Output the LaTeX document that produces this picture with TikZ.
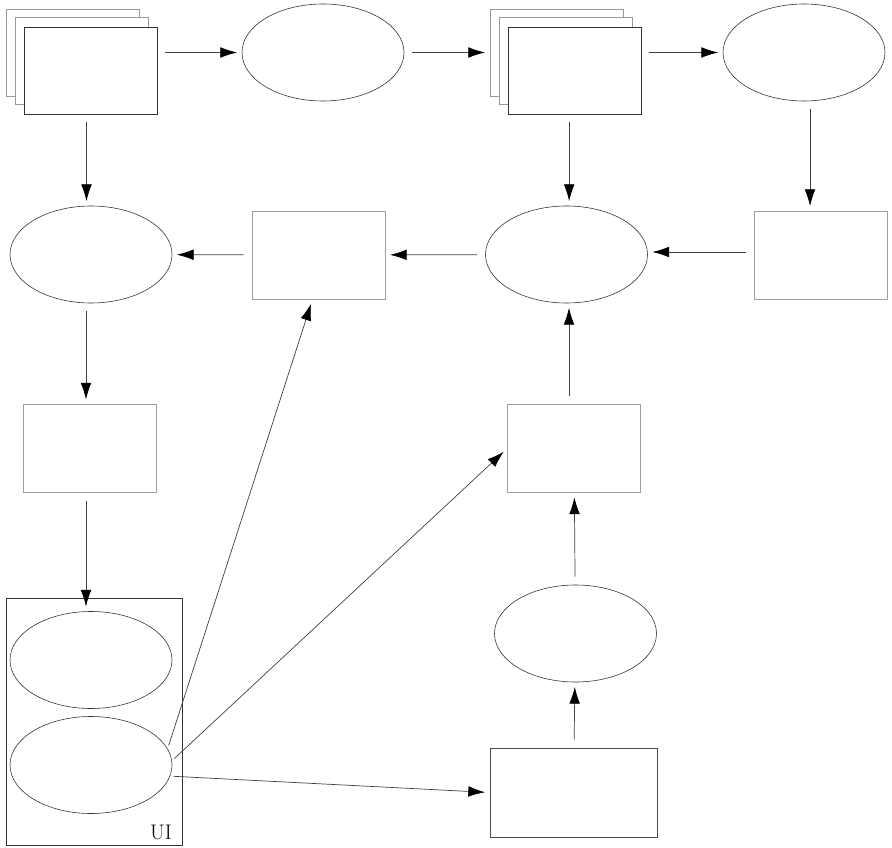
\documentclass[tikz,border=0pt]{standalone}
\usetikzlibrary{shapes.geometric,arrows.meta}

\tikzset{
  box/.style={draw=gray!75, line width=0.6pt, fill=white, minimum width=3.99cm, minimum height=2.64cm, inner sep=0pt},
  card/.style={box, minimum width=3.99cm, minimum height=2.61cm},
  oval/.style={ellipse, draw=black!80, line width=0.5pt, fill=white, minimum width=4.86cm, minimum height=2.91cm, inner sep=0pt},
  arr/.style={draw=black!75, line width=0.6pt, -{Latex[length=0.5cm, width=0.32cm, color=black]}, shorten <=0.24cm, shorten >=0.14cm}
}

\begin{document}
\begin{tikzpicture}[x=0.03cm, y=-0.03cm]
  \useasboundingbox (0,0) rectangle (892,848);
  %first row
  \node[card, draw=gray!80] (A3) at (72.5,52.5) {};
  \node[card, draw=gray!80] (A2) at (81.5,61) {};
  \node[card, draw=black!80] (A) at (90.5,70.5) {};
  \node[oval] (B) at (323,52.5) {};
  \node[card, draw=gray!80] (C3) at (556.5,52.5) {};
  \node[card, draw=gray!80] (C2) at (565.5,61) {};
  \node[card, draw=black!80] (C) at (574.5,70.5) {};
  \node[oval] (D) at (804,52.5) {};
  %second row
  \node[oval] (E) at (91,254.5) {};
  \node[box] (F) at (318.5,255) {};
  \node[oval] (G) at (566.5,254.5) {};
  \node[box] (H) at (820.5,255) {};
  %third row
  \node[box] (I) at (90,448.5) {};
  \node[box] (J) at (574,448.5) {};
  %UI
  \node[draw=black!80, line width=0.6pt, minimum width=5.28cm, minimum height=7.41cm, inner sep=0pt] (UI) at (94,721.5) {};
  \node[anchor=south east, inner sep=0pt, font=\fontsize{18}{20}\selectfont] (UIlabel) at (172,840) {UI};
  \node[oval] (K1) at (91,660) {};
  \node[oval] (K2) at (91,765) {};
  \node[oval] (L) at (575.5,633.5) {};
  \node[box, draw=black!70, minimum width=5.01cm, minimum height=2.67cm] (M) at (573.5,792.5) {};
  %arrows
  \draw[arr] (A.east |- B) -- (B);
  \draw[arr] (B) -- (B -| C3.west);
  \draw[arr] (C.east |- D) -- (D);
  \draw[arr] ([xshift=-0.12cm]A.south) -- ([xshift=-0.12cm]A.south |- E.north);
  \draw[arr] ([xshift=-0.16cm]C.south) -- ([xshift=-0.16cm]C.south |- G.north);
  \draw[arr] ([xshift=0.18cm]D.south) -- ([xshift=0.18cm]D.south |- H.north);
  \draw[arr] (F) -- (E);
  \draw[arr] (G) -- (F);
  \draw[arr] ([yshift=0.09cm]H.west) -- ([yshift=0.09cm]H.west -| G.east);
  \draw[arr] ([xshift=-0.15cm]E.south) -- ([xshift=-0.15cm]E.south |- I.north);
  \draw[arr] ([xshift=-0.12cm]I.south) -- ([xshift=-0.12cm]I.south |- K1.north);
  \draw[arr] ([xshift=-0.15cm]J.north) -- ([xshift=-0.15cm]J.north |- G.south);
  \draw[arr] (L) -- (J);
  \draw[arr] (M) -- (L);
  \draw[arr, shorten <=0.1cm] (K2.12) -- ([xshift=-0.18cm]F.south);
  \draw[arr, shorten <=0.1cm] (K2.3) -- (J.west);
  \draw[arr, shorten <=0.1cm] (K2.-8) -- (M.west);
\end{tikzpicture}
\end{document}
